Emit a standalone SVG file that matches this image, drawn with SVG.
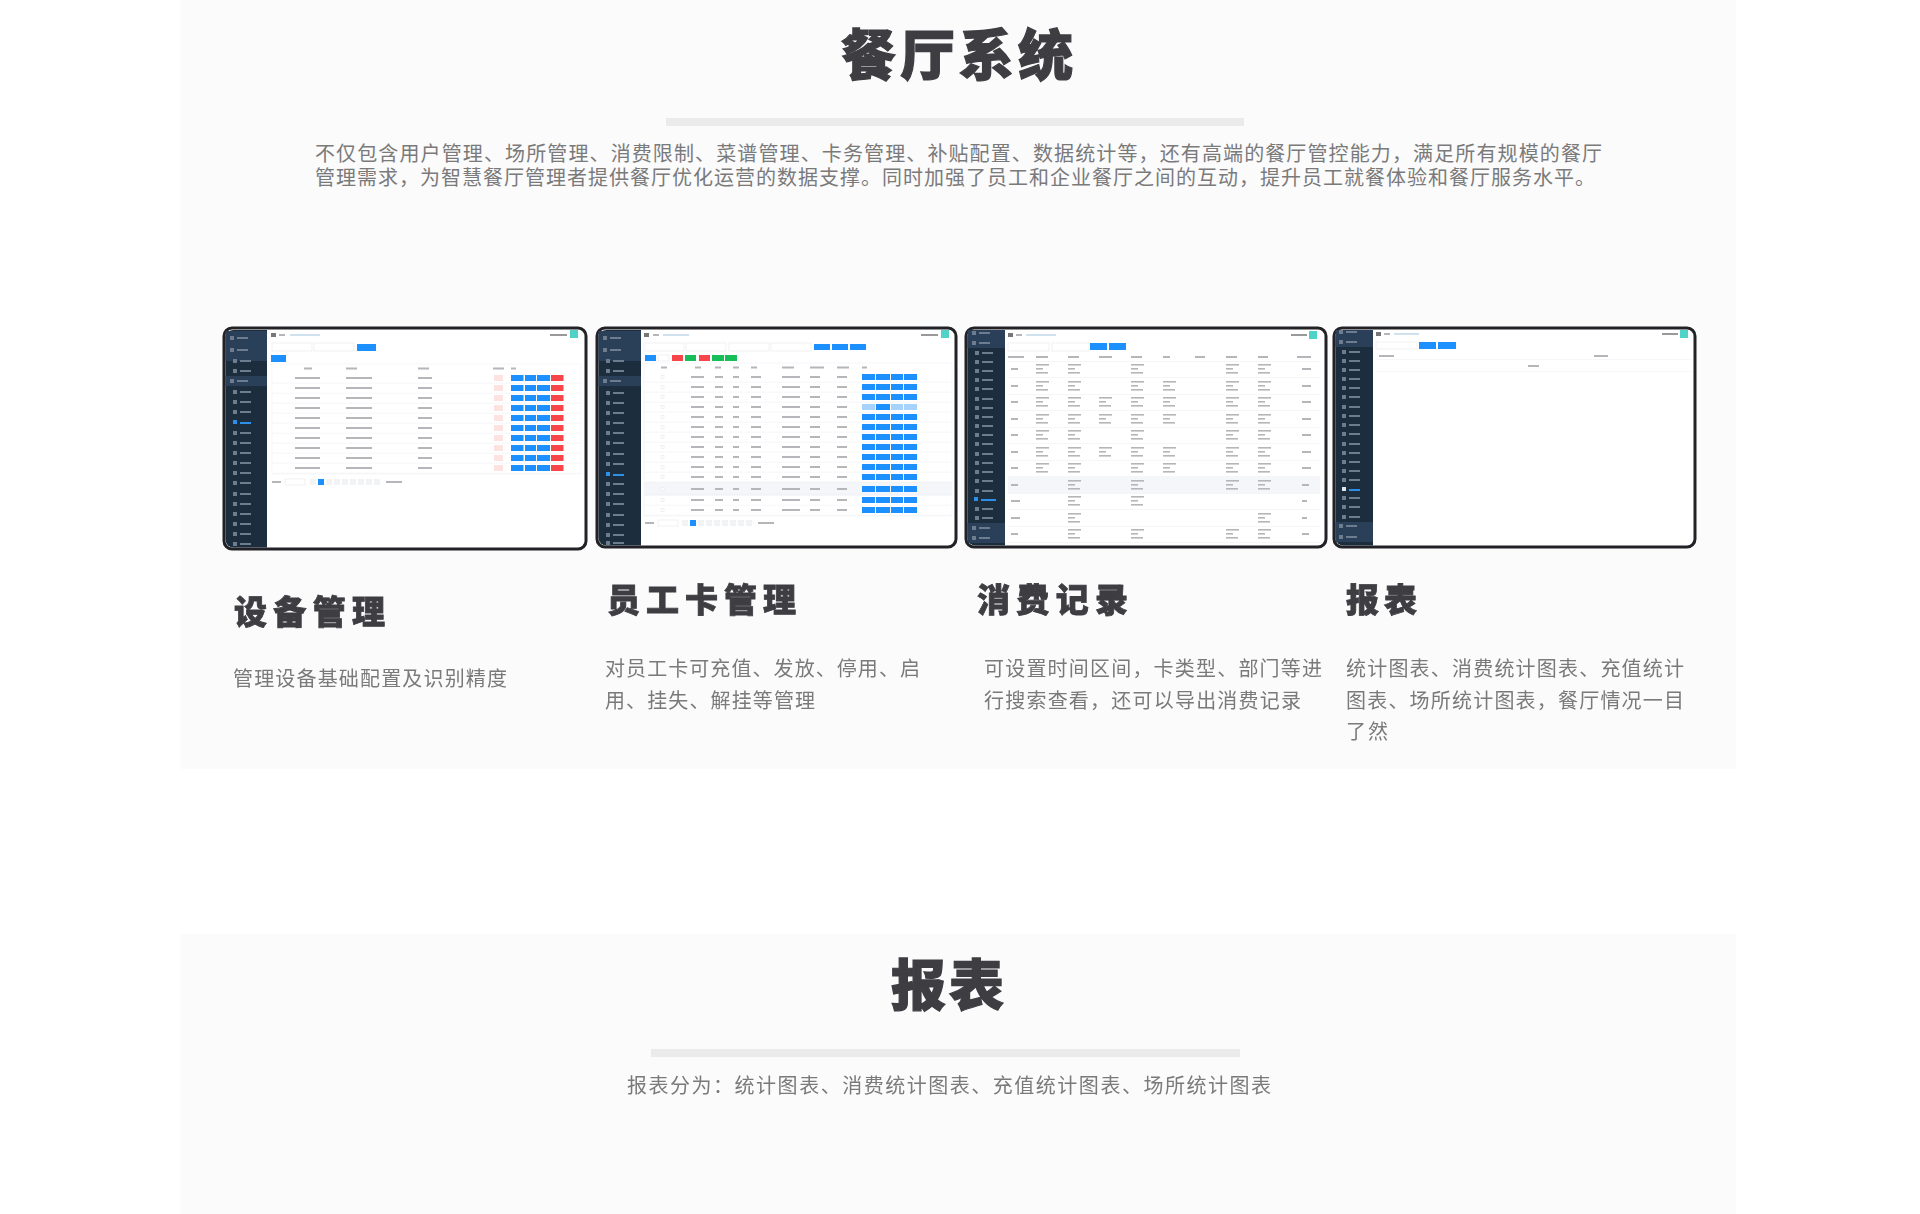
<svg xmlns="http://www.w3.org/2000/svg" width="1920" height="1214" viewBox="0 0 1920 1214">
<style>
text{font-family:"Noto Sans CJK SC","Liberation Sans",sans-serif}
.t1{font-size:55px;font-weight:900;fill:#3e3d42;stroke:#3e3d42;stroke-width:1.2px}
.t2{font-size:33px;font-weight:900;fill:#3e3d42;stroke:#3e3d42;stroke-width:.8px}
.b{font-size:20px;fill:#7a7a7a}
.rule{fill:#ebebeb}
.frame{fill:#fff;stroke:#222226;stroke-width:3}
.side{fill:#1f2d3e}
.hi{fill:#2b3f58}
.dim{fill:#6d7c8e}
.bl{fill:#1e90ff}
.pl{fill:#a6d2fb}
.re{fill:#f8454a}
.gr{fill:#17bf58}
.pk{fill:#fde2e2}
.tx{fill:#b6b6ba}
.ln{fill:#eef0f3}
.box{fill:#fff;stroke:#e6e8ec;stroke-width:.6}
.te{fill:#4fd2c8}
</style>
<defs>
<filter id="soft" x="-2%" y="-2%" width="104%" height="104%"><feGaussianBlur stdDeviation=".7"/></filter>
<g id="mi"><rect x="0" y="-2" width="4" height="4" class="dim"/><rect x="7" y="-1" width="11" height="2" class="dim"/></g>
<g id="r1">
<rect x="272" y="4.8" width="309" height=".6" class="ln"/>
<rect x="295" y="-1" width="25" height="2" class="tx"/><rect x="346" y="-1" width="26" height="2" class="tx"/><rect x="418" y="-1" width="14" height="2" class="tx"/>
<rect x="494" y="-3" width="9" height="6" class="pk"/>
<rect x="511" y="-3" width="12.5" height="6" class="bl"/><rect x="525" y="-3" width="11" height="6" class="bl"/><rect x="537" y="-3" width="13" height="6" class="bl"/><rect x="551" y="-3" width="12.5" height="6" class="re"/>
</g>
<g id="r2">
<rect x="644" y="4.8" width="308" height=".6" class="ln"/>
<rect x="661" y="-1.5" width="3" height="3" class="box"/>
<rect x="691" y="-1" width="13" height="2" class="tx"/><rect x="715" y="-1" width="8" height="2" class="tx"/><rect x="733" y="-1" width="6" height="2" class="tx"/><rect x="751" y="-1" width="10" height="2" class="tx"/><rect x="782" y="-1" width="18" height="2" class="tx"/><rect x="810" y="-1" width="10" height="2" class="tx"/><rect x="837" y="-1" width="10" height="2" class="tx"/>
<rect x="862" y="-3" width="13" height="6" class="bl"/><rect x="876" y="-3" width="14" height="6" class="bl"/><rect x="891" y="-3" width="12" height="6" class="bl"/><rect x="904" y="-3" width="13" height="6" class="bl"/>
</g>
<g id="c3"><rect x="0" y="-5" width="13" height="1.6" class="tx"/><rect x="0" y="-1" width="7" height="1.6" class="tx"/><rect x="0" y="3" width="12" height="1.6" class="tx"/></g>
<g id="top2"><rect x="0" y="0" width="8" height="8" class="te"/></g>
</defs>

<g id="panel-top">
<rect x="181" y="0" width="1555" height="769" fill="#fbfbfc"/>
<text x="841" y="75" class="t1" textLength="232">餐厅系统</text>
<rect x="666" y="118" width="578" height="8" class="rule"/>
<text x="315" y="161" class="b" textLength="1287">不仅包含用户管理、场所管理、消费限制、菜谱管理、卡务管理、补贴配置、数据统计等，还有高端的餐厅管控能力，满足所有规模的餐厅</text>
<text x="315" y="185" class="b" textLength="1280">管理需求，为智慧餐厅管理者提供餐厅优化运营的数据支撑。同时加强了员工和企业餐厅之间的互动，提升员工就餐体验和餐厅服务水平。</text>
</g>

<g id="card-device">
<rect x="224" y="328" width="362" height="221" rx="8" class="frame"/>
<g filter="url(#soft)">
<path d="M225.500 338a8 8 0 0 1 8-8H267V547.500H233.500a8 8 0 0 1-8-8Z" class="side"/>
<rect x="225.500" y="331" width="41.500" height="30" class="hi"/><rect x="225.500" y="376" width="41.500" height="10" class="hi"/>
<use href="#mi" x="230" y="338"/><use href="#mi" x="230" y="350"/><use href="#mi" x="233" y="361"/><use href="#mi" x="233" y="371"/><use href="#mi" x="230" y="381"/><use href="#mi" x="233" y="392"/><use href="#mi" x="233" y="402"/><use href="#mi" x="233" y="412"/>
<rect x="233" y="420" width="4" height="4" fill="#2d8fe8"/><rect x="240" y="422" width="11" height="2" fill="#2d8fe8"/>
<use href="#mi" x="233" y="433"/><use href="#mi" x="233" y="443"/><use href="#mi" x="233" y="453"/><use href="#mi" x="233" y="463"/><use href="#mi" x="233" y="473"/><use href="#mi" x="233" y="483"/><use href="#mi" x="233" y="494"/><use href="#mi" x="233" y="504"/><use href="#mi" x="233" y="514"/><use href="#mi" x="233" y="524"/><use href="#mi" x="233" y="534"/><use href="#mi" x="233" y="544"/>
<rect x="271" y="333" width="5" height="4" fill="#777"/><rect x="279" y="334" width="6" height="2" class="tx"/><rect x="290" y="334" width="30" height="2" fill="#cfe0ef"/><rect x="550" y="334" width="17" height="2" fill="#999"/>
<use href="#top2" x="570" y="330"/>
<rect x="272" y="343" width="40" height="8" class="box"/><rect x="314" y="343" width="40" height="8" class="box"/><rect x="357" y="344" width="19" height="7" class="bl"/><rect x="271" y="355" width="15" height="7" class="bl"/>
<rect x="272" y="364" width="309" height="110" fill="none" stroke="#eef0f3" stroke-width=".6"/>
<rect x="304" y="367.500" width="8" height="2" class="tx"/><rect x="346" y="367.500" width="11" height="2" class="tx"/><rect x="418" y="367.500" width="11" height="2" class="tx"/><rect x="493" y="367.500" width="11" height="2" class="tx"/><rect x="511" y="367.500" width="5" height="2" class="tx"/>
<use href="#r1" y="378"/><use href="#r1" y="388"/><use href="#r1" y="398"/><use href="#r1" y="408"/><use href="#r1" y="418"/><use href="#r1" y="428"/><use href="#r1" y="438"/><use href="#r1" y="448"/><use href="#r1" y="458"/><use href="#r1" y="468"/>
<rect x="272" y="481" width="9" height="2" class="tx"/><rect x="285" y="479" width="20" height="6" class="box"/><rect x="318" y="479" width="6" height="6" class="bl"/>
<rect x="310" y="479" width="6" height="6" fill="#f2f3f5"/><rect x="326" y="479" width="6" height="6" fill="#f2f3f5"/><rect x="334" y="479" width="6" height="6" fill="#f2f3f5"/><rect x="342" y="479" width="6" height="6" fill="#f2f3f5"/><rect x="350" y="479" width="6" height="6" fill="#f2f3f5"/><rect x="358" y="479" width="6" height="6" fill="#f2f3f5"/><rect x="366" y="479" width="6" height="6" fill="#f2f3f5"/><rect x="374" y="479" width="6" height="6" fill="#f2f3f5"/><rect x="386" y="481" width="16" height="2" class="tx"/>
</g>
<text x="234" y="624" class="t2" textLength="151">设备管理</text>
<text x="233" y="686" class="b" textLength="274">管理设备基础配置及识别精度</text>
</g>

<g id="card-employee">
<rect x="597" y="328" width="359" height="219" rx="8" class="frame"/>
<g filter="url(#soft)">
<path d="M598.500 338a8 8 0 0 1 8-8H641V545.500H606.500a8 8 0 0 1-8-8Z" class="side"/>
<rect x="598.500" y="331" width="42.500" height="30" class="hi"/><rect x="598.500" y="376" width="42.500" height="10" class="hi"/>
<use href="#mi" x="603" y="338"/><use href="#mi" x="603" y="350"/><use href="#mi" x="606" y="361"/><use href="#mi" x="606" y="371"/><use href="#mi" x="603" y="381"/><use href="#mi" x="606" y="393"/><use href="#mi" x="606" y="403"/><use href="#mi" x="606" y="413"/><use href="#mi" x="606" y="423"/><use href="#mi" x="606" y="433"/><use href="#mi" x="606" y="443"/><use href="#mi" x="606" y="454"/><use href="#mi" x="606" y="464"/>
<rect x="606" y="472" width="4" height="4" fill="#2d8fe8"/><rect x="613" y="474" width="11" height="2" fill="#2d8fe8"/>
<use href="#mi" x="606" y="484"/><use href="#mi" x="606" y="494"/><use href="#mi" x="606" y="504"/><use href="#mi" x="606" y="515"/><use href="#mi" x="606" y="525"/><use href="#mi" x="606" y="535"/><use href="#mi" x="606" y="543"/>
<rect x="644" y="333" width="5" height="4" fill="#777"/><rect x="653" y="334" width="6" height="2" class="tx"/><rect x="663" y="334" width="26" height="2" fill="#cfe0ef"/><rect x="921" y="334" width="17" height="2" fill="#999"/>
<use href="#top2" x="941" y="330"/>
<rect x="644" y="343" width="40" height="8" class="box"/><rect x="686" y="343" width="40" height="8" class="box"/><rect x="729" y="343" width="40" height="8" class="box"/><rect x="771" y="343" width="40" height="8" class="box"/>
<rect x="814" y="344" width="16" height="6" class="bl"/><rect x="832" y="344" width="16" height="6" class="bl"/><rect x="850" y="344" width="16" height="6" class="bl"/>
<rect x="645" y="355" width="11" height="6" class="bl"/><rect x="658" y="355" width="11" height="6" class="box"/><rect x="672" y="355" width="11" height="6" class="re"/><rect x="685" y="355" width="11" height="6" class="gr"/><rect x="699" y="355" width="11" height="6" class="re"/><rect x="712" y="355" width="12" height="6" class="gr"/><rect x="725" y="355" width="12" height="6" class="gr"/>
<rect x="644" y="363" width="308" height="153" fill="none" stroke="#eef0f3" stroke-width=".6"/>
<rect x="661" y="366.500" width="6" height="2" class="tx"/><rect x="695" y="366.500" width="6" height="2" class="tx"/><rect x="715" y="366.500" width="6" height="2" class="tx"/><rect x="733" y="366.500" width="6" height="2" class="tx"/><rect x="751" y="366.500" width="6" height="2" class="tx"/><rect x="782" y="366.500" width="12" height="2" class="tx"/><rect x="810" y="366.500" width="14" height="2" class="tx"/><rect x="837" y="366.500" width="12" height="2" class="tx"/><rect x="862" y="366.500" width="5" height="2" class="tx"/>
<rect x="644" y="482" width="308" height="14" fill="#f4f6fa"/>
<use href="#r2" y="377"/><use href="#r2" y="387"/><use href="#r2" y="397"/><use href="#r2" y="407"/><use href="#r2" y="417"/><use href="#r2" y="427"/><use href="#r2" y="437"/><use href="#r2" y="447"/><use href="#r2" y="457"/><use href="#r2" y="467"/><use href="#r2" y="477"/><use href="#r2" y="489"/><use href="#r2" y="500"/><use href="#r2" y="510"/>
<rect x="862" y="404" width="13" height="6" class="pl"/><rect x="891" y="404" width="12" height="6" class="pl"/><rect x="904" y="404" width="13" height="6" class="pl"/>
<rect x="645" y="522" width="9" height="2" class="tx"/><rect x="658" y="520" width="20" height="6" class="box"/><rect x="690" y="520" width="6" height="6" class="bl"/>
<rect x="682" y="520" width="6" height="6" fill="#f2f3f5"/><rect x="698" y="520" width="6" height="6" fill="#f2f3f5"/><rect x="706" y="520" width="6" height="6" fill="#f2f3f5"/><rect x="714" y="520" width="6" height="6" fill="#f2f3f5"/><rect x="722" y="520" width="6" height="6" fill="#f2f3f5"/><rect x="730" y="520" width="6" height="6" fill="#f2f3f5"/><rect x="738" y="520" width="6" height="6" fill="#f2f3f5"/><rect x="746" y="520" width="6" height="6" fill="#f2f3f5"/><rect x="758" y="522" width="16" height="2" class="tx"/>
</g>
<text x="607" y="612" class="t2" textLength="189">员工卡管理</text>
<text x="605" y="676" class="b" textLength="315">对员工卡可充值、发放、停用、启</text>
<text x="605" y="708" class="b" textLength="210">用、挂失、解挂等管理</text>
</g>

<g id="card-records">
<rect x="966" y="328" width="360" height="219" rx="8" class="frame"/>
<g filter="url(#soft)">
<path d="M967.500 338a8 8 0 0 1 8-8H1005V545.500H975.500a8 8 0 0 1-8-8Z" class="side"/>
<rect x="967.500" y="330" width="37.500" height="18" class="hi"/><rect x="967.500" y="523" width="37.500" height="20" class="hi"/>
<use href="#mi" x="972" y="333"/><use href="#mi" x="972" y="343"/><use href="#mi" x="975" y="353"/><use href="#mi" x="975" y="362"/><use href="#mi" x="975" y="371"/><use href="#mi" x="975" y="380"/><use href="#mi" x="975" y="389"/><use href="#mi" x="975" y="399"/><use href="#mi" x="975" y="408"/><use href="#mi" x="975" y="417"/><use href="#mi" x="975" y="426"/><use href="#mi" x="975" y="435"/><use href="#mi" x="975" y="444"/><use href="#mi" x="975" y="454"/><use href="#mi" x="975" y="463"/><use href="#mi" x="975" y="472"/><use href="#mi" x="975" y="481"/><use href="#mi" x="975" y="491"/>
<rect x="974" y="497" width="4" height="4" fill="#2d8fe8"/><rect x="981" y="499" width="15" height="2" fill="#2d8fe8"/>
<use href="#mi" x="975" y="509"/><use href="#mi" x="975" y="518"/><use href="#mi" x="972" y="528"/><use href="#mi" x="972" y="538"/>
<rect x="1008" y="333" width="5" height="4" fill="#777"/><rect x="1016" y="334" width="6" height="2" class="tx"/><rect x="1026" y="334" width="30" height="2" fill="#cfe0ef"/><rect x="1291" y="334" width="16" height="2" fill="#999"/>
<use href="#top2" x="1309" y="331"/>
<rect x="1008" y="343" width="41" height="8" class="box"/><rect x="1052" y="343" width="37" height="8" class="box"/><rect x="1090" y="343" width="17" height="7" class="bl"/><rect x="1109" y="343" width="17" height="7" class="bl"/>
<rect x="1008" y="356" width="16" height="2" class="tx"/><rect x="1036" y="356" width="12" height="2" class="tx"/><rect x="1068" y="356" width="11" height="2" class="tx"/><rect x="1099" y="356" width="13" height="2" class="tx"/><rect x="1131" y="356" width="11" height="2" class="tx"/><rect x="1163" y="356" width="7" height="2" class="tx"/><rect x="1195" y="356" width="10" height="2" class="tx"/><rect x="1226" y="356" width="11" height="2" class="tx"/><rect x="1258" y="356" width="10" height="2" class="tx"/><rect x="1297" y="356" width="14" height="2" class="tx"/>
<rect x="1008" y="477" width="312" height="16" fill="#f4f6fa"/>
<g fill="#eef0f3"><rect x="1008" y="361" width="312" height=".6"/><rect x="1008" y="377" width="312" height=".6"/><rect x="1008" y="394" width="312" height=".6"/><rect x="1008" y="410" width="312" height=".6"/><rect x="1008" y="427" width="312" height=".6"/><rect x="1008" y="443" width="312" height=".6"/><rect x="1008" y="460" width="312" height=".6"/><rect x="1008" y="476" width="312" height=".6"/><rect x="1008" y="493" width="312" height=".6"/><rect x="1008" y="509" width="312" height=".6"/><rect x="1008" y="526" width="312" height=".6"/><rect x="1008" y="542" width="312" height=".6"/></g>
<g class="tx"><rect x="1011" y="368" width="7" height="2"/><rect x="1011" y="385" width="7" height="2"/><rect x="1011" y="401" width="7" height="2"/><rect x="1011" y="418" width="7" height="2"/><rect x="1011" y="434" width="7" height="2"/><rect x="1011" y="451" width="7" height="2"/><rect x="1011" y="467" width="7" height="2"/><rect x="1011" y="484" width="7" height="2"/><rect x="1011" y="500" width="9" height="2"/><rect x="1011" y="517" width="9" height="2"/><rect x="1011" y="533" width="7" height="2"/>
<rect x="1302" y="368" width="9" height="2"/><rect x="1302" y="385" width="9" height="2"/><rect x="1302" y="401" width="9" height="2"/><rect x="1302" y="418" width="9" height="2"/><rect x="1302" y="434" width="9" height="2"/><rect x="1302" y="451" width="9" height="2"/><rect x="1302" y="467" width="9" height="2"/><rect x="1302" y="484" width="7" height="2"/><rect x="1302" y="500" width="5" height="2"/><rect x="1302" y="517" width="5" height="2"/><rect x="1302" y="533" width="7" height="2"/></g>
<use href="#c3" x="1036" y="369"/><use href="#c3" x="1068" y="369"/><use href="#c3" x="1131" y="369"/><use href="#c3" x="1226" y="369"/><use href="#c3" x="1258" y="369"/>
<use href="#c3" x="1036" y="386"/><use href="#c3" x="1068" y="386"/><use href="#c3" x="1131" y="386"/><use href="#c3" x="1163" y="386"/><use href="#c3" x="1226" y="386"/><use href="#c3" x="1258" y="386"/>
<use href="#c3" x="1036" y="402"/><use href="#c3" x="1068" y="402"/><use href="#c3" x="1099" y="402"/><use href="#c3" x="1131" y="402"/><use href="#c3" x="1163" y="402"/><use href="#c3" x="1226" y="402"/><use href="#c3" x="1258" y="402"/>
<use href="#c3" x="1036" y="419"/><use href="#c3" x="1068" y="419"/><use href="#c3" x="1099" y="419"/><use href="#c3" x="1131" y="419"/><use href="#c3" x="1163" y="419"/><use href="#c3" x="1226" y="419"/><use href="#c3" x="1258" y="419"/>
<use href="#c3" x="1036" y="435"/><use href="#c3" x="1068" y="435"/><use href="#c3" x="1131" y="435"/><use href="#c3" x="1226" y="435"/><use href="#c3" x="1258" y="435"/>
<use href="#c3" x="1036" y="452"/><use href="#c3" x="1068" y="452"/><use href="#c3" x="1099" y="452"/><use href="#c3" x="1131" y="452"/><use href="#c3" x="1163" y="452"/><use href="#c3" x="1226" y="452"/><use href="#c3" x="1258" y="452"/>
<use href="#c3" x="1036" y="468"/><use href="#c3" x="1068" y="468"/><use href="#c3" x="1131" y="468"/><use href="#c3" x="1163" y="468"/><use href="#c3" x="1226" y="468"/><use href="#c3" x="1258" y="468"/>
<use href="#c3" x="1068" y="485"/><use href="#c3" x="1131" y="485"/><use href="#c3" x="1226" y="485"/><use href="#c3" x="1258" y="485"/>
<use href="#c3" x="1068" y="501"/><use href="#c3" x="1131" y="501"/>
<use href="#c3" x="1068" y="518"/><use href="#c3" x="1258" y="518"/>
<use href="#c3" x="1068" y="534"/><use href="#c3" x="1131" y="534"/><use href="#c3" x="1226" y="534"/><use href="#c3" x="1258" y="534"/>
</g>
<text x="977" y="612" class="t2" textLength="151">消费记录</text>
<text x="984" y="676" class="b" textLength="338">可设置时间区间，卡类型、部门等进</text>
<text x="984" y="708" class="b" textLength="317">行搜索查看，还可以导出消费记录</text>
</g>

<g id="card-report">
<rect x="1334" y="328" width="361" height="219" rx="8" class="frame"/>
<g filter="url(#soft)">
<path d="M1335.500 338a8 8 0 0 1 8-8H1373V545.500H1343.500a8 8 0 0 1-8-8Z" class="side"/>
<rect x="1335.500" y="330" width="37.500" height="17" class="hi"/><rect x="1335.500" y="522" width="37.500" height="20" class="hi"/>
<use href="#mi" x="1339" y="332"/><use href="#mi" x="1339" y="342"/><use href="#mi" x="1342" y="352"/><use href="#mi" x="1342" y="361"/><use href="#mi" x="1342" y="370"/><use href="#mi" x="1342" y="379"/><use href="#mi" x="1342" y="388"/><use href="#mi" x="1342" y="397"/><use href="#mi" x="1342" y="407"/><use href="#mi" x="1342" y="416"/><use href="#mi" x="1342" y="425"/><use href="#mi" x="1342" y="434"/><use href="#mi" x="1342" y="444"/><use href="#mi" x="1342" y="453"/><use href="#mi" x="1342" y="462"/><use href="#mi" x="1342" y="471"/><use href="#mi" x="1342" y="480"/>
<rect x="1342" y="487" width="4" height="4" fill="#dfe6ee"/><rect x="1349" y="489" width="11" height="2" fill="#2d8fe8"/>
<use href="#mi" x="1342" y="498"/><use href="#mi" x="1342" y="507"/><use href="#mi" x="1342" y="517"/><use href="#mi" x="1339" y="526"/><use href="#mi" x="1339" y="537"/>
<rect x="1376" y="332" width="5" height="4" fill="#777"/><rect x="1384" y="333" width="6" height="2" class="tx"/><rect x="1394" y="333" width="25" height="2" fill="#cfe0ef"/><rect x="1662" y="333" width="16" height="2" fill="#999"/>
<use href="#top2" x="1680" y="330"/>
<rect x="1376" y="342" width="41" height="7" class="box"/><rect x="1419" y="342" width="17" height="7" class="bl"/><rect x="1438" y="342" width="18" height="7" class="bl"/>
<rect x="1379" y="355" width="15" height="2" class="tx"/><rect x="1594" y="355" width="14" height="2" class="tx"/>
<rect x="1528" y="365" width="11" height="2" class="tx"/>
<rect x="1376" y="359.500" width="315" height=".6" class="ln"/><rect x="1376" y="371" width="315" height=".6" class="ln"/>
</g>
<text x="1346" y="612" class="t2" textLength="71">报表</text>
<text x="1346" y="676" class="b" textLength="338">统计图表、消费统计图表、充值统计</text>
<text x="1346" y="708" class="b" textLength="338">图表、场所统计图表，餐厅情况一目</text>
<text x="1346" y="739" class="b" textLength="42">了然</text>
</g>

<g id="panel-report">
<rect x="181" y="934" width="1555" height="280" fill="#fbfbfc"/>
<text x="891" y="1005" class="t1" textLength="113">报表</text>
<rect x="651" y="1049" width="589" height="8" class="rule"/>
<text x="627" y="1093" class="b" textLength="644">报表分为：统计图表、消费统计图表、充值统计图表、场所统计图表</text>
</g>
<g id="connectors"/>
</svg>
